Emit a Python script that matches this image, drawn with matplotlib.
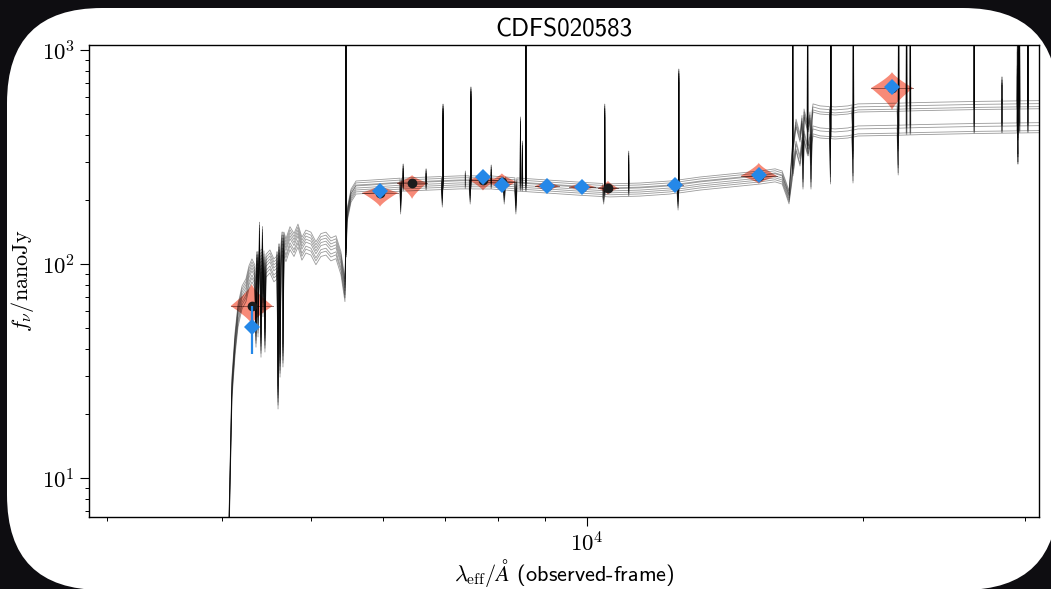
import numpy as np
import matplotlib
matplotlib.use('Agg')
import matplotlib.pyplot as plt
from matplotlib.patches import FancyBboxPatch
from matplotlib.ticker import NullFormatter, LogLocator

plt.rcParams['font.family'] = 'cmr10'
plt.rcParams['mathtext.fontset'] = 'cm'
plt.rcParams['axes.formatter.use_mathtext'] = True
plt.rcParams['axes.unicode_minus'] = False

# --- model continuum (median of posterior draws), observed-frame Angstrom / nJy ---
uv_lam = [4024, 4074, 4105, 4137, 4168, 4210, 4252, 4284, 4316, 4349, 4382, 4426,
          4470, 4515, 4560, 4595, 4665, 4700, 4748, 4796, 4844, 4892, 4942, 5004,
          5067, 5131, 5196, 5261, 5328, 5395, 5450]
uv_flux = [0.9, 6.0, 28, 45, 61, 74, 80, 92, 99, 86, 107, 110,
           102, 109, 99, 102, 132, 123, 140, 130, 144, 125, 135, 132,
           119, 130, 132, 124, 127, 107, 80]

opt_lam = [5478, 5534, 5604, 5801, 6258, 6745, 7272, 7842, 8455, 9113, 9827,
           10596, 11421, 12314, 13278, 14316, 15438, 16030, 16315, 16480, 16600]
opt_flux = [169, 210, 229, 231, 236, 239, 242, 242, 236, 231, 226,
            222, 224, 229, 239, 247, 255, 261, 255, 226, 206]

nir_lam = [16727, 16895, 17065, 17237, 17410, 17630, 17940, 18630, 19245, 19731,
           21545, 23050, 24850, 26800, 28890, 31150]
nir_flux = [290, 400, 341, 446, 380, 471, 461, 456, 461, 471,
            474, 478, 481, 484, 486, 488]

# emission lines: observed wavelength, peak flux
emis_lam = [4398, 4431, 5464, 6307, 6680, 6970, 7372, 7475, 7866, 8464, 8505, 8581,
            10455, 11103, 12590, 16756, 17391, 18438, 19509, 21850, 22291, 22507,
            26413, 28320, 29433, 29500, 29595, 30225]
emis_peak = [147, 140, 4000, 275, 261, 524, 255, 630, 272, 456, 352, 4000,
             524, 316, 764, 4000, 4000, 4000, 4000, 4000, 4000, 4000,
             4000, 630, 900, 4000, 1500, 4000]

# absorption features: observed wavelength, trough flux
abs_lam = [4360, 4382, 4415, 4437, 4459, 4608, 4631, 4665,
           6266, 6958, 7462, 8127, 8367, 10428, 12568,
           17192, 17540, 18420, 19490, 21830, 29475]
abs_trough = [49, 54.7, 44, 68, 46.5, 25.2, 35.5, 39.6,
              184.7, 199, 205.6, 205.6, 184.7, 205.6, 192.7,
              266, 266, 281, 284, 309.6, 348]

# per-draw offsets (dex) in the Lyman forest, rest-UV and rest-optical parts
uv_shift = [0.028, 0.014, 0.0, -0.014, -0.028, -0.047, -0.061, -0.079]
opt_shift = [0.028, -0.005, 0.019, -0.023, 0.009, -0.014, 0.005, -0.033]
nir_shift = [0.075, -0.028, 0.047, -0.065, 0.061, -0.042, 0.037, -0.075]

# model photometry posteriors: wavelength, median, spread below / above (dex)
model_lam = [4313, 5951, 6449, 7704, 8079, 9045, 9875, 10541, 12468, 15387, 21492]
model_med = [63.6, 215, 239, 247, 242, 231, 229, 226, 234, 258, 664]
model_lo = [0.084, 0.065, 0.075, 0.05, 0.05, 0.03, 0.025, 0.03, 0.03, 0.037, 0.103]
model_hi = [0.103, 0.037, 0.037, 0.03, 0.04, 0.03, 0.025, 0.035, 0.03, 0.061, 0.075]

# observed photometry
obs_lam = [4313, 5951, 7704, 8079, 9045, 9875, 12468, 15387, 21492]
obs_flux = [50.8, 219, 255, 234, 231, 229, 234, 261, 672]
obs_err = [12.8, 6, 6, 5, 5, 5, 6, 7, 15]

# violin half-widths in dex of wavelength
violin_hw = np.array([21, 18, 15, 14, 14, 12, 13, 10, 8, 18, 21]) / 918.0

LYA_EDGE = 5464
BALMER_EDGE = 16650
EMIS_HW = 0.0003
ABS_HW = 0.0011

cont_lam = np.array(uv_lam + opt_lam + nir_lam, float)
cont_flux = np.array(uv_flux + opt_flux + nir_flux, float)


def region_of(lam):
    lam = np.asarray(lam, float)
    return np.where(lam < LYA_EDGE, 0, np.where(lam < BALMER_EDGE, 1, 2))


def continuum_at(lam):
    return 10 ** np.interp(np.log10(lam), np.log10(cont_lam), np.log10(cont_flux))


def build_draw(k):
    shifts = np.array([uv_shift[k], opt_shift[k], nir_shift[k]])
    lam_pts = list(cont_lam)
    flux_pts = list(cont_flux * 10 ** shifts[region_of(cont_lam)])
    feats = list(zip(emis_lam, emis_peak, [EMIS_HW] * len(emis_lam)))
    feats += list(zip(abs_lam, abs_trough, [ABS_HW] * len(abs_lam)))
    for lam0, val, hw in feats:
        scale = 10 ** shifts[region_of(lam0)]
        base = continuum_at(lam0) * scale
        lam_pts += [lam0 * 10 ** -hw, lam0, lam0 * 10 ** hw]
        flux_pts += [base, val * scale, base]
    lam_pts = np.array(lam_pts)
    flux_pts = np.array(flux_pts)
    order = np.argsort(lam_pts, kind='stable')
    return lam_pts[order], flux_pts[order]


fig = plt.figure(figsize=(10.51, 5.89), dpi=100, facecolor='#0e0d11')
panel = FancyBboxPatch((7, -1), 1051, 582, boxstyle='round,pad=0,rounding_size=95',
                       facecolor='white', edgecolor='none', transform=None, zorder=-5)
fig.add_artist(panel)

ax = fig.add_axes([89 / 1051, 1 - 517 / 589, 950 / 1051, 472 / 589])
ax.set_xscale('log')
ax.set_yscale('log')

# posterior draws of the model spectrum
for k in range(len(uv_shift)):
    lam, flux = build_draw(k)
    ax.plot(lam, flux, color='k', lw=0.6, alpha=0.4, zorder=2)

# model photometry violins
u = np.linspace(-1, 1, 121)
prof = (1 - np.abs(u)) ** 1.3
for lam0, med, lo, hi, hw in zip(model_lam, model_med, model_lo, model_hi, violin_hw):
    yy = med * 10 ** np.where(u < 0, u * lo, u * hi)
    xl = lam0 * 10 ** (-hw * prof)
    xr = lam0 * 10 ** (hw * prof)
    ax.fill(np.r_[xl, xr[::-1]], np.r_[yy, yy[::-1]], color='#f7806c',
            lw=0, alpha=0.92, zorder=1)
    ax.plot([lam0 * 10 ** -hw, lam0 * 10 ** hw], [med, med], color='#5b2019',
            lw=0.7, alpha=0.6, zorder=1.5)

ax.plot(model_lam, model_med, 'o', color='#1c1c1c', ms=6, zorder=3)
ax.errorbar(obs_lam, obs_flux, yerr=obs_err, fmt='D', color='#2588e8', ms=8.5,
            mew=0, elinewidth=1.6, capsize=0, zorder=4)

ax.set_xlim(2868, 31075)
ax.set_ylim(6.57, 1055)
ax.xaxis.set_minor_locator(LogLocator(base=10, subs=np.arange(2, 10)))
ax.xaxis.set_minor_formatter(NullFormatter())
ax.yaxis.set_minor_formatter(NullFormatter())
ax.tick_params(which='major', direction='out', length=6.7, width=0.8, labelsize=16.5)
ax.tick_params(which='minor', direction='out', length=3.2, width=0.7)
for sp in ax.spines.values():
    sp.set_linewidth(1.0)

ax.set_title('CDFS020583', fontfamily='cmss10', fontsize=18, pad=6)
ax.set_ylabel(r'$f_\nu/\mathrm{nanoJy}$', fontsize=16)
ax.set_xlabel(r'$\lambda_{\rm eff}/\AA$ (observed-frame)', fontfamily='cmss10',
              fontsize=16, labelpad=1)

fig.savefig('out.png', dpi=100, facecolor=fig.get_facecolor())
